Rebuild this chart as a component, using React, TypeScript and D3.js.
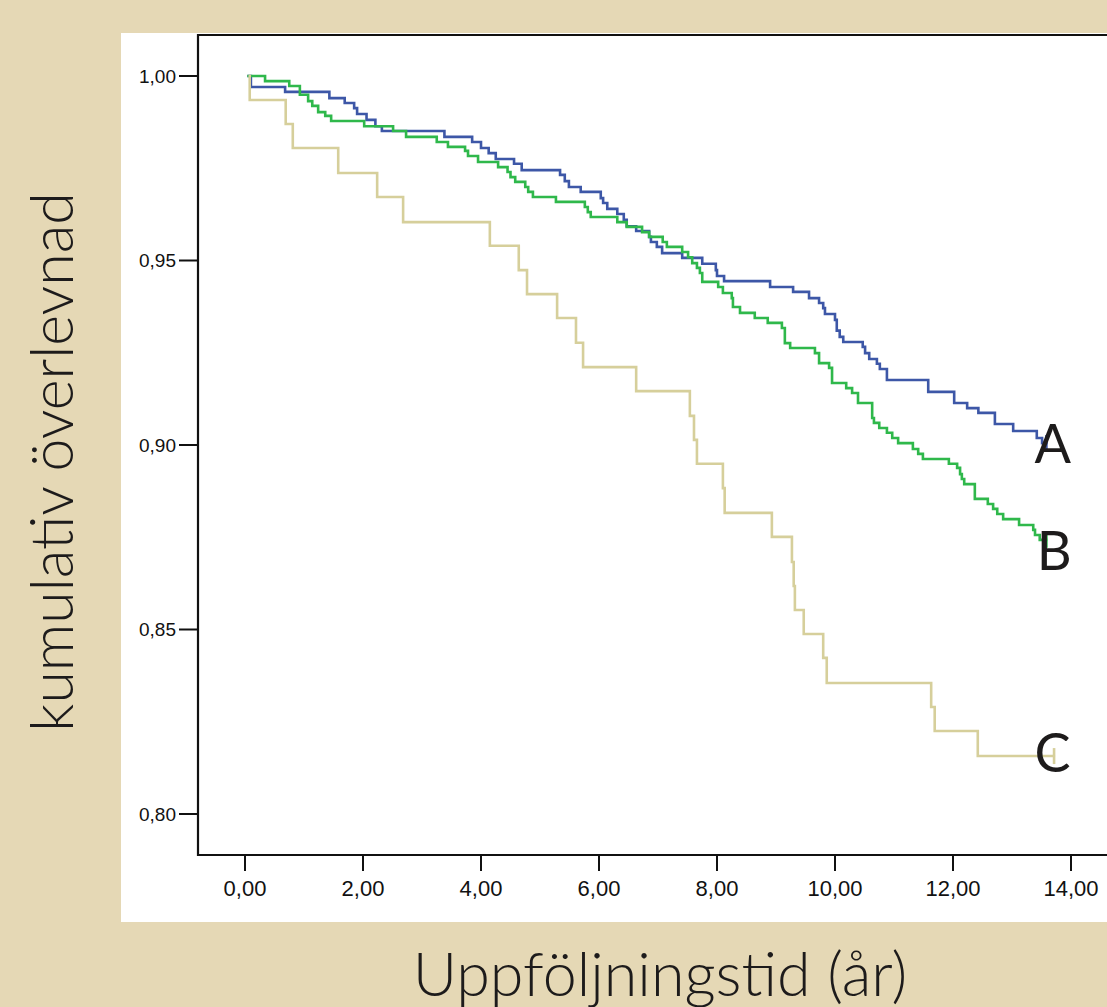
import React from 'react'
import * as d3 from 'd3'

// Kaplan-Meier steps: [time (years), survival after the step]
const seriesA: [number, number][] = [
  [0.04, 1.0], [0.10, 0.9970], [0.68, 0.9957], [1.43, 0.9940], [1.69, 0.9927], [1.85, 0.9913],
  [1.90, 0.9897], [2.06, 0.9881], [2.21, 0.9864], [2.32, 0.9851], [3.38, 0.9835], [3.85, 0.9821],
  [4.00, 0.9805], [4.13, 0.9791], [4.25, 0.9775], [4.56, 0.9762], [4.69, 0.9745], [5.34, 0.9732],
  [5.42, 0.9715], [5.49, 0.9699], [5.69, 0.9686], [6.03, 0.9669], [6.07, 0.9656], [6.14, 0.9640],
  [6.31, 0.9626], [6.42, 0.9610], [6.47, 0.9593], [6.63, 0.9580], [6.85, 0.9564], [6.88, 0.9550],
  [6.98, 0.9537], [7.07, 0.9520], [7.41, 0.9507], [7.75, 0.9491], [7.98, 0.9474], [8.00, 0.9458],
  [8.12, 0.9444], [8.90, 0.9428], [9.29, 0.9415], [9.56, 0.9398], [9.73, 0.9385], [9.80, 0.9371],
  [9.83, 0.9355], [10.00, 0.9339], [10.03, 0.9310], [10.08, 0.9293], [10.14, 0.9279], [10.47, 0.9266],
  [10.51, 0.9249], [10.58, 0.9233], [10.71, 0.9220], [10.76, 0.9206], [10.88, 0.9176], [11.58, 0.9144],
  [12.02, 0.9114], [12.24, 0.9100], [12.43, 0.9087], [12.71, 0.9057], [13.02, 0.9038], [13.42, 0.9019],
  [13.51, 0.9005], [13.60, 0.9005],
]

const seriesB: [number, number][] = [
  [0.04, 1.0], [0.34, 0.9986], [0.75, 0.9973], [0.93, 0.9949], [1.07, 0.9932], [1.14, 0.9919],
  [1.24, 0.9902], [1.36, 0.9892], [1.46, 0.9878], [2.02, 0.9864], [2.51, 0.9851], [2.73, 0.9835],
  [3.25, 0.9821], [3.44, 0.9808], [3.73, 0.9797], [3.78, 0.9783], [3.95, 0.9767], [4.29, 0.9753],
  [4.45, 0.9740], [4.50, 0.9726], [4.58, 0.9713], [4.75, 0.9699], [4.80, 0.9686], [4.88, 0.9672],
  [5.27, 0.9659], [5.76, 0.9645], [5.81, 0.9631], [5.86, 0.9618], [6.31, 0.9604], [6.47, 0.9591],
  [6.73, 0.9577], [6.85, 0.9564], [7.08, 0.9550], [7.15, 0.9537], [7.41, 0.9523], [7.51, 0.9509],
  [7.58, 0.9493], [7.66, 0.9480], [7.71, 0.9466], [7.75, 0.9442], [8.02, 0.9428], [8.10, 0.9412],
  [8.25, 0.9398], [8.27, 0.9374], [8.39, 0.9358], [8.64, 0.9344], [8.86, 0.9331], [9.10, 0.9317],
  [9.15, 0.9276], [9.24, 0.9263], [9.66, 0.9249], [9.73, 0.9222], [9.90, 0.9209], [9.95, 0.9168],
  [10.19, 0.9154], [10.29, 0.9141], [10.39, 0.9114], [10.63, 0.9073], [10.66, 0.9060], [10.75, 0.9046],
  [10.88, 0.9033], [10.97, 0.9019], [11.07, 0.9005], [11.32, 0.8989], [11.41, 0.8976], [11.49, 0.8962],
  [11.93, 0.8949], [12.07, 0.8938], [12.12, 0.8921], [12.15, 0.8908], [12.19, 0.8894], [12.37, 0.8854],
  [12.59, 0.8840], [12.68, 0.8827], [12.75, 0.8813], [12.85, 0.8799], [13.12, 0.8783], [13.36, 0.8770],
  [13.39, 0.8756], [13.47, 0.8743], [13.60, 0.8743],
]

const seriesC: [number, number][] = [
  [0.06, 1.0], [0.08, 0.9935], [0.69, 0.9870], [0.81, 0.9805], [1.58, 0.9737], [2.24, 0.9672],
  [2.68, 0.9604], [4.15, 0.9540], [4.64, 0.9474], [4.78, 0.9409], [5.29, 0.9344], [5.61, 0.9277],
  [5.73, 0.9211], [6.63, 0.9146], [7.54, 0.9079], [7.61, 0.9014], [7.66, 0.8949], [8.10, 0.8883],
  [8.13, 0.8816], [8.93, 0.8751], [9.27, 0.8683], [9.30, 0.8618], [9.32, 0.8553], [9.47, 0.8488],
  [9.80, 0.8423], [9.86, 0.8355], [11.63, 0.8290], [11.69, 0.8225], [12.42, 0.8157], [13.73, 0.8157],
]

const groupNames = ['A', 'B', 'C']
const groupColors = ['#3d57a7', '#2fb84b', '#d6cf9b']
// where each group letter sits: [time, survival] of the text baseline
const labelAnchors: [number, number][] = [[13.38, 0.8952], [13.42, 0.8660], [13.38, 0.8115]]

const xTicks = [0, 2, 4, 6, 8, 10, 12, 14]
const yTicks = [0.8, 0.85, 0.9, 0.95, 1.0]

const xTitle = 'Uppföljningstid (år)'
const yTitle = 'kumulativ överlevnad'

export default function App() {
  const width = 1107
  const height = 1007
  const x = d3.scaleLinear().domain([0, 14]).range([245, 1071])
  const y = d3.scaleLinear().domain([0.8, 1.0]).range([814, 76])
  const fmt = (v: number) => d3.format('.2f')(v).replace('.', ',')
  const line = d3.line<[number, number]>()
    .x(d => x(d[0]))
    .y(d => y(d[1]))
    .curve(d3.curveStepAfter)

  const all = [seriesA, seriesB, seriesC]
  const axisLeft = 198
  const axisBottom = 855

  return (
    <div>
      <style>{'body{margin:0}'}</style>
      <svg width={width} height={height} style={{ display: 'block' }}>
        <rect x={0} y={0} width={width} height={height} fill="#e5d8b5" />
        <rect x={121} y={33} width={width - 121} height={889} fill="#ffffff" />

        {/* frame */}
        <line x1={axisLeft} x2={width} y1={35} y2={35} stroke="#111" strokeWidth={2} />
        <line x1={axisLeft} x2={axisLeft} y1={34} y2={axisBottom + 1} stroke="#111" strokeWidth={2.2} />
        <line x1={axisLeft} x2={width} y1={axisBottom} y2={axisBottom} stroke="#111" strokeWidth={2.2} />

        {yTicks.map(t => (
          <g key={'y' + t}>
            <line x1={179} x2={axisLeft} y1={y(t)} y2={y(t)} stroke="#111" strokeWidth={2} />
            <text x={176} y={y(t)} dy="0.36em" textAnchor="end"
              style={{ fontFamily: 'Liberation Sans, Arial, sans-serif', fontSize: 19, fill: '#111' }}>
              {fmt(t)}
            </text>
          </g>
        ))}

        {xTicks.map(t => (
          <g key={'x' + t}>
            <line x1={x(t)} x2={x(t)} y1={axisBottom} y2={axisBottom + 16} stroke="#111" strokeWidth={2} />
            <text x={x(t)} y={896} textAnchor="middle"
              style={{ fontFamily: 'Liberation Sans Narrow, Liberation Sans, Arial, sans-serif', fontSize: 22, fill: '#111' }}>
              {fmt(t)}
            </text>
          </g>
        ))}

        {all.map((s, i) => {
          const last = s[s.length - 1]
          return (
            <g key={groupNames[i]}>
              <path d={line(s) || ''} fill="none" stroke={groupColors[i]} strokeWidth={2.6} />
              <line x1={x(last[0]) - 1} x2={x(last[0]) - 1} y1={y(last[1]) - 8} y2={y(last[1]) + 8}
                stroke={groupColors[i]} strokeWidth={2.6} />
            </g>
          )
        })}

        {labelAnchors.map((a, i) => (
          <text key={'lab' + i} x={x(a[0])} y={y(a[1])}
            style={{ fontFamily: 'Lato, Noto Sans, sans-serif', fontSize: 54, fill: '#1d1b1b' }}>
            {groupNames[i]}
          </text>
        ))}

        <text x={660} y={996} textAnchor="middle"
          style={{ fontFamily: 'Lato, Noto Sans, sans-serif', fontWeight: 300, fontSize: 61, fill: '#1d1b1b' }}>
          {xTitle}
        </text>
        <text transform="translate(73,462) rotate(-90)" textAnchor="middle"
          style={{ fontFamily: 'Lato, Noto Sans, sans-serif', fontWeight: 300, fontSize: 59, fill: '#1d1b1b' }}>
          {yTitle}
        </text>
      </svg>
    </div>
  )
}
